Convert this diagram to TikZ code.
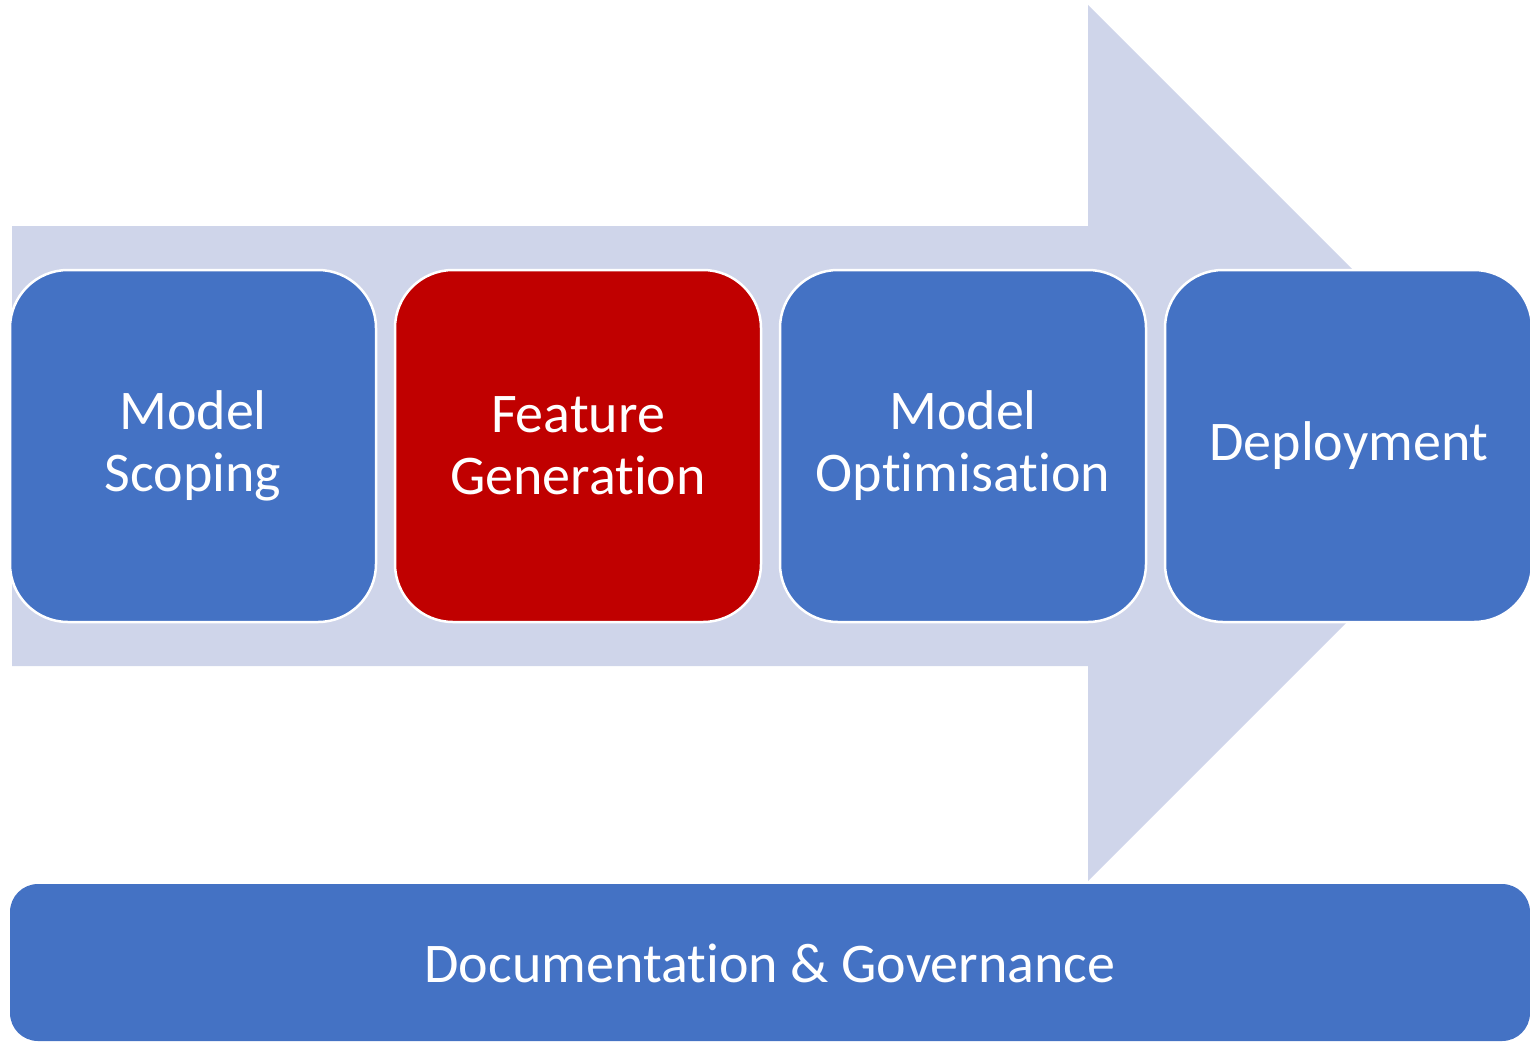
\documentclass[tikz,border=0pt]{standalone}
\usepackage{fontspec}
\setmainfont{Carlito}[Ligatures=CommonOff]
\definecolor{boxblue}{HTML}{4472C4}
\definecolor{boxred}{HTML}{C00000}
\definecolor{arrowfill}{HTML}{CFD5EA}
\tikzset{
  stage/.style={draw=white, line width=2.5pt, rounded corners=58pt, fill=boxblue},
  stagetext/.style={text=white, align=center, font=\fontsize{56}{62}\selectfont},
}
\begin{document}
\begin{tikzpicture}[x=1pt,y=-1pt]
\useasboundingbox (0,0) rectangle (1530,1041);
% big background arrow
\fill[arrowfill] (12,226) -- (1088,226) -- (1088,5) -- (1526,443) -- (1088,881) -- (1088,666) -- (12,666) -- cycle;
% stages
\draw[stage] (10,270) rectangle (376,622);
\draw[stage, fill=boxred] (395,270) rectangle (761,622);
\draw[stage] (780,270) rectangle (1146,622);
\draw[stage] (1165,270) rectangle (1532,622);
\node[stagetext] (s1) at (193,446) {Model\\Scoping};
\node[stagetext] (s2) at (578,446) {Feature\\Generation};
\node[stagetext] (s3) at (963,446) {Model\\Optimisation};
\node[stagetext] (s4) at (1349,446) {Deployment};
% bottom bar
\fill[boxblue, rounded corners=28pt] (10,884) rectangle (1530,1041);
\node[stagetext] (doc) at (770,963) {Documentation \& Governance};
\end{tikzpicture}
\end{document}
